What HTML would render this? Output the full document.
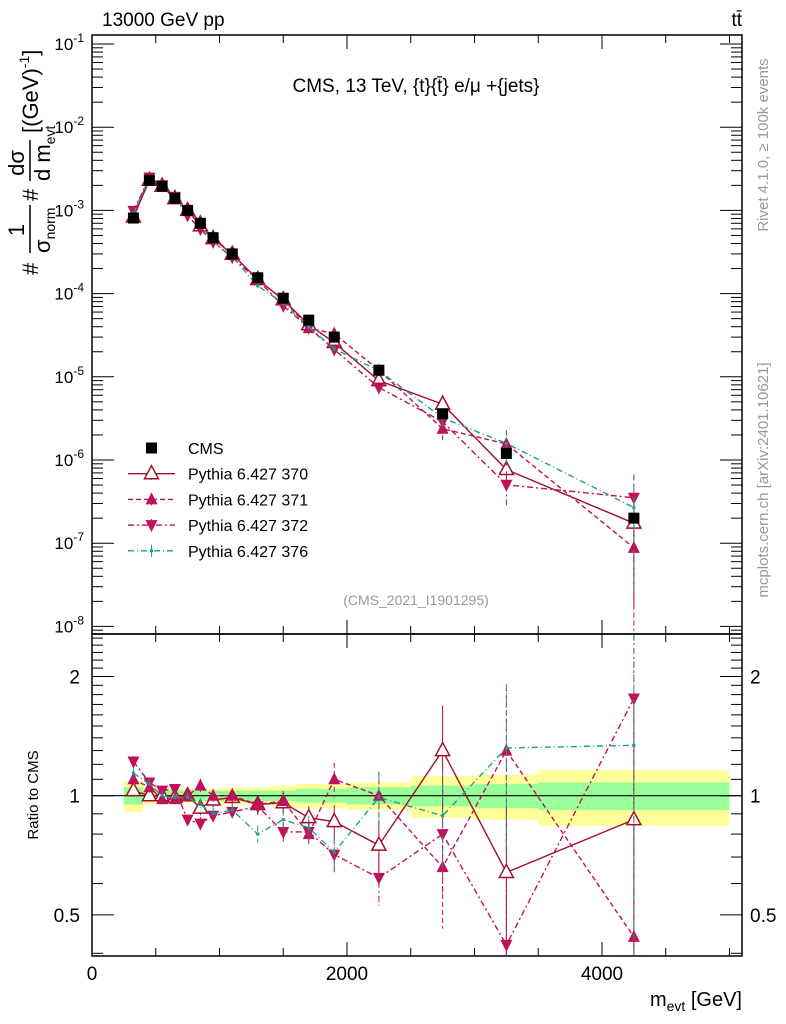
<!DOCTYPE html>
<html><head><meta charset="utf-8"><style>
html,body{margin:0;padding:0;background:#fff}
svg{display:block;font-family:"Liberation Sans",sans-serif}
</style></head><body>
<svg id="c" width="786" height="1024" viewBox="0 0 786 1024"></svg>
<script>
const binEdges=[250,400,500,600,700,800,900,1000,1200,1400,1600,1800,2000,2500,3000,3500,5000];
const binCenters=[325,450,550,650,750,850,950,1100,1300,1500,1700,1900,2250,2750,3250,4250];
const cmsValues=[8.1e-4,2.3e-3,1.95e-3,1.4e-3,1.0e-3,7.0e-4,4.7e-4,3.0e-4,1.55e-4,8.8e-5,4.8e-5,3.0e-5,1.2e-5,3.6e-6,1.2e-6,2.0e-7];
const bandStat=[0.05,0.03,0.03,0.03,0.03,0.03,0.03,0.03,0.03,0.03,0.04,0.04,0.05,0.06,0.07,0.08];
const bandTot=[0.09,0.05,0.05,0.04,0.04,0.04,0.04,0.05,0.05,0.06,0.07,0.07,0.08,0.12,0.13,0.16];
const ratio370=[1.03,1.0,1.0,0.99,1.0,0.93,0.975,0.99,0.95,0.96,0.88,0.86,0.75,1.30,0.64,0.87];
const ratio371=[1.10,1.05,0.98,0.98,1.0,1.06,1.0,1.0,0.95,0.97,0.80,1.10,1.0,0.66,1.30,0.44];
const ratio372=[1.22,1.08,1.03,1.04,0.87,0.85,0.89,0.91,0.94,0.81,0.81,0.71,0.62,0.80,0.42,1.76];
const ratio376=[1.14,1.07,1.0,0.99,0.99,0.95,0.90,0.92,0.80,0.87,0.83,0.72,0.99,0.89,1.32,1.34];
const mcRelErr=[0.03,0.03,0.03,0.03,0.03,0.04,0.04,0.04,0.05,0.06,0.07,0.1,0.15,0.3,0.45,0.9];
const xTicks=[0,2000,4000];
const yDecades=[-1,-2,-3,-4,-5,-6,-7,-8];
const ratioTicks=[2,1,0.5];

const NS="http://www.w3.org/2000/svg";
const svg=document.getElementById('c');
function el(tag,attrs,parent){const e=document.createElementNS(NS,tag);for(const k in attrs)e.setAttribute(k,attrs[k]);(parent||svg).appendChild(e);return e;}
const X0=92,X1=742,MT=35,MB=634,RB=956;
const xs=v=>X0+v*0.1275;
const ys=v=>44+83.2*(-1-Math.log10(v));
const yr=r=>795.7-396*Math.log10(r);
const clampM=y=>Math.max(MT,Math.min(MB,y));
const clampR=y=>Math.max(MB,Math.min(RB,y));

const gB=el('g',{});


for(let i=0;i<binCenters.length;i++){
  const xa=xs(binEdges[i]),xb=xs(binEdges[i+1]);
  el('rect',{x:xa,y:yr(1+bandTot[i]),width:xb-xa,height:yr(1-bandTot[i])-yr(1+bandTot[i]),fill:'#ffff99'},gB);
  el('rect',{x:xa,y:yr(1+bandStat[i]),width:xb-xa,height:yr(1-bandStat[i])-yr(1+bandStat[i]),fill:'#99ff99'},gB);
}
el('line',{x1:X0,x2:X1,y1:yr(1),y2:yr(1),stroke:'#000','stroke-width':1.2});

const fr1=el('rect',{x:X0,y:MT,width:X1-X0,height:MB-MT,fill:'none',stroke:'#000','stroke-width':1.5});


const fr2=el('rect',{x:X0,y:MB,width:X1-X0,height:RB-MB,fill:'none',stroke:'#000','stroke-width':1.5});



yDecades.forEach(d=>{
  const y=ys(Math.pow(10,d));
  el('line',{x1:X0,x2:X0+22,y1:y,y2:y,stroke:'#000'});
  el('line',{x1:X1,x2:X1-22,y1:y,y2:y,stroke:'#000'});
  const t=el('text',{x:X0-8,y:y+6,'text-anchor':'end','font-size':17});
  
  
  t.innerHTML='10<tspan dy="-8" font-size="12">'+d+'</tspan>';
  for(let m=2;m<=9;m++){const yy=ys(m*Math.pow(10,d-1));if(yy<MB&&yy>MT){el('line',{x1:X0,x2:X0+11,y1:yy,y2:yy,stroke:'#000'});el('line',{x1:X1,x2:X1-11,y1:yy,y2:yy,stroke:'#000'});}}
});
[0.4,0.5,0.6,0.7,0.8,0.9,1,1.1,1.2,1.3,1.4,1.5,1.6,1.7,1.8,1.9,2,2.1,2.2,2.3,2.4,2.5].forEach(r=>{
  const y=yr(r);if(y<MB+2||y>RB-2)return;
  const major=ratioTicks.includes(r);const L=major?22:11;
  el('line',{x1:X0,x2:X0+L,y1:y,y2:y,stroke:'#000'});el('line',{x1:X1,x2:X1-L,y1:y,y2:y,stroke:'#000'});
});
ratioTicks.forEach(r=>{
  const t=el('text',{x:X0-12,y:yr(r)+7,'text-anchor':'end','font-size':19});t.textContent=r;
  
  
  const t2=el('text',{x:X1+8,y:yr(r)+7,'font-size':19});t2.textContent=r;
  
  
});
for(let v=0;v<=5000;v+=500){
  const x=xs(v);const L=(v%2000===0)?14:8;
  [MT,MB].forEach(y=>el('line',{x1:x,x2:x,y1:y,y2:y+L,stroke:'#000'}));
  [MB,RB].forEach(y=>el('line',{x1:x,x2:x,y1:y,y2:y-L,stroke:'#000'}));
}
xTicks.forEach(v=>{const t=el('text',{x:xs(v),y:980,'text-anchor':'middle','font-size':19});t.textContent=v;
  
  });

const series=[
 {name:'pythia-370',r:ratio370,c:'#a0102a',dash:'',mk:'open-up'},
 {name:'pythia-371',r:ratio371,c:'#c0105a',dash:'5,3',mk:'up'},
 {name:'pythia-372',r:ratio372,c:'#c0105a',dash:'6,3,2,3',mk:'down'},
 {name:'pythia-376',r:ratio376,c:'#17a08c',dash:'6,3,1,3',mk:'dot'}];
function marker(g,mk,x,y,c){
  if(mk==='open-up')el('path',{d:`M${x-7},${y+5}L${x+7},${y+5}L${x},${y-8}Z`,fill:'#fff',stroke:c,'stroke-width':1.5},g);
  else if(mk==='up')el('path',{d:`M${x-6},${y+5}L${x+6},${y+5}L${x},${y-7}Z`,fill:c},g);
  else if(mk==='down')el('path',{d:`M${x-6},${y-5}L${x+6},${y-5}L${x},${y+7}Z`,fill:c},g);
  else el('rect',{x:x-1.5,y:y-1.5,width:3,height:3,fill:c},g);
}
series.forEach(s=>{
  const g=el('g',{});
  
  
  const gr=el('g',{});
  
  
  const pm=[],pr=[];
  binCenters.forEach((b,i)=>{
    const v=cmsValues[i]*s.r[i],x=xs(b);
    pm.push([x,ys(v)]);pr.push([x,yr(s.r[i])]);
    const e=mcRelErr[i];
    el('line',{x1:x,x2:x,y1:clampM(ys(v*(1+e))),y2:clampM(e<1?ys(v*(1-e)):MB),stroke:s.c,'stroke-dasharray':s.dash},g);
    el('line',{x1:x,x2:x,y1:clampR(yr(s.r[i]*(1+e))),y2:clampR(e<1?yr(s.r[i]*(1-e)):RB),stroke:s.c,'stroke-dasharray':s.dash},gr);
  });
  el('polyline',{points:pm.map(p=>p.join(',')).join(' '),fill:'none',stroke:s.c,'stroke-width':1.4,'stroke-dasharray':s.dash},g);
  el('polyline',{points:pr.map(p=>p.join(',')).join(' '),fill:'none',stroke:s.c,'stroke-width':1.4,'stroke-dasharray':s.dash},gr);
  pm.forEach(p=>marker(g,s.mk,p[0],p[1],s.c));
  pr.forEach(p=>{if(p[1]>MB&&p[1]<RB)marker(gr,s.mk,p[0],p[1],s.c);});
});
const gc=el('g',{});


binCenters.forEach((b,i)=>{const x=xs(b),y=ys(cmsValues[i]);el('rect',{x:x-5.5,y:y-5.5,width:11,height:11,fill:'#000'},gc);});

const leg=[['CMS','cms'],['Pythia 6.427 370',0],['Pythia 6.427 371',1],['Pythia 6.427 372',2],['Pythia 6.427 376',3]];
leg.forEach((l,i)=>{
  const y=448+25.7*i;
  const g=el('g',{});
  
  
  if(l[1]==='cms')el('rect',{x:146,y:y-5.5,width:11,height:11,fill:'#000'},g);
  else{const s=series[l[1]];el('line',{x1:128,x2:175,y1:y,y2:y,stroke:s.c,'stroke-width':1.4,'stroke-dasharray':s.dash},g);
    el('line',{x1:151.5,x2:151.5,y1:y-6,y2:y+6,stroke:s.c},g);marker(g,s.mk,151.5,y,s.c);}
  const t=el('text',{x:188,y:y+6,'font-size':16},g);t.textContent=l[0];
});
function txt(x,y,s,attrs,name,parent){const t=el('text',Object.assign({x:x,y:y},attrs),parent);t.innerHTML=s;
  
  return t;}
txt(416,92,'CMS, 13 TeV, {t}{t̄} e/μ +{jets}',{'text-anchor':'middle','font-size':19},'plot-title');
txt(416,605,'(CMS_2021_I1901295)',{'text-anchor':'middle','font-size':14,fill:'#999'},'analysis-id');
txt(102,26,'13000 GeV pp',{'font-size':19},'beam-label');
txt(742,26,'tt̄',{'text-anchor':'end','font-size':19},'process-label');
txt(742,1006,'m<tspan dy="5" font-size="14">evt</tspan><tspan dy="-5"> [GeV]</tspan>',{'text-anchor':'end','font-size':20},'x-axis-title');
txt(0,0,'Ratio to CMS',{'text-anchor':'middle','font-size':15,transform:'translate(38,795) rotate(-90)'},'ratio-axis-title');
txt(0,0,'Rivet 4.1.0, ≥ 100k events',{'text-anchor':'middle','font-size':15,fill:'#999',transform:'translate(768,145) rotate(-90)'},'rivet-label');
txt(0,0,'mcplots.cern.ch [arXiv:2401.10621]',{'text-anchor':'middle','font-size':15,fill:'#999',transform:'translate(768,480) rotate(-90)'},'mcplots-label');

// y-axis title as stacked fractions
const yt=el('g',{transform:'translate(30,275) rotate(-90)'});


txt(0,8,'#',{'font-size':22},'y-title-hash',yt);
txt(45,-6,'1',{'font-size':22,'text-anchor':'middle'},'y-title-one',yt);
el('line',{x1:22,x2:70,y1:0,y2:0,stroke:'#000','stroke-width':1.5},yt);
txt(22,20,'σ<tspan dy="5" font-size="14">norm</tspan>',{'font-size':22},'y-title-sigma',yt);
txt(74,8,'#',{'font-size':22},'y-title-hash2',yt);
txt(112,-6,'dσ',{'font-size':22,'text-anchor':'middle'},'y-title-dsigma',yt);
el('line',{x1:94,x2:135,y1:0,y2:0,stroke:'#000','stroke-width':1.5},yt);
txt(94,20,'d m<tspan dy="5" font-size="14">evt</tspan>',{'font-size':22},'y-title-dm',yt);
txt(142,8,'[(GeV)<tspan dy="-9" font-size="14">-1</tspan><tspan dy="9">]</tspan>',{'font-size':22},'y-title-unit',yt);
</script>
</body></html>
